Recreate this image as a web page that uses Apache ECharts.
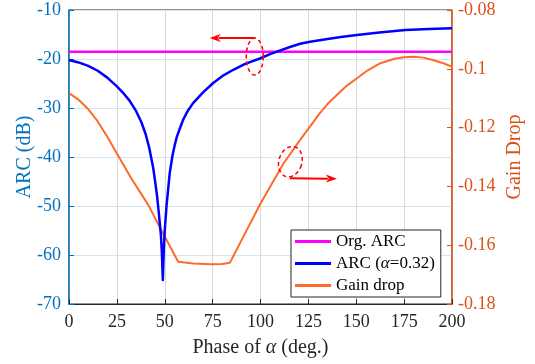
<!DOCTYPE html>
<html><head><meta charset="utf-8">
<script src="https://cdn.jsdelivr.net/npm/echarts@6/dist/echarts.min.js"></script>
<style>html,body{margin:0;padding:0;background:#fff}#c{width:535px;height:364px}</style>
</head><body><div id="c"></div>
<script>
// ---- data ----
const phaseTicks = [0, 25, 50, 75, 100, 125, 150, 175, 200];
const orgArcPhase = [0, 200];
const orgArcValues = [-18.5, -18.5];
const arcPhase = [0, 5, 10, 15, 20, 25, 28, 31.6, 35, 37.8, 40, 42, 44, 44.8, 46, 46.9, 48, 48.5, 49, 49.5, 50, 50.9, 52.6, 54, 55.2, 56.3, 57.5, 59.6, 62, 64.8, 70, 75.3, 80, 85.8, 92, 99.7, 105, 110, 115, 120.7, 125.9, 135, 142, 150.4, 162, 175.7, 188, 200];
const arcValues = [-20.2, -20.7, -21.4, -22.4, -23.8, -25.6, -26.8, -28.5, -30.6, -32.9, -35.3, -38.3, -42.3, -44.5, -48, -51.4, -56, -59.5, -65.1, -59, -55, -50.1, -43.3, -39.8, -37.6, -35.9, -34.6, -32.4, -30.6, -29.0, -26.8, -24.9, -23.5, -22.2, -21.0, -19.9, -19.0, -18.3, -17.6, -16.9, -16.5, -15.9, -15.5, -15.1, -14.6, -14.1, -13.9, -13.7];
const gainPhase = [0, 5, 10, 15, 20, 25, 32.5, 41.3, 48.2, 57, 65, 74, 80, 84, 92, 100, 112, 120.7, 126, 131, 135, 140, 145, 150.4, 156, 162.6, 170, 175, 180, 185, 190, 195, 200];
const gainValues = [-0.1083, -0.1105, -0.1137, -0.1179, -0.1231, -0.1288, -0.1372, -0.1462, -0.1548, -0.1656, -0.1662, -0.1665, -0.1664, -0.1660, -0.1559, -0.1458, -0.1322, -0.1242, -0.1195, -0.1151, -0.1120, -0.1088, -0.1058, -0.1032, -0.1005, -0.0981, -0.0966, -0.0961, -0.0959, -0.0962, -0.0970, -0.0980, -0.0993];
const arcTicks = [-70, -60, -50, -40, -30, -20, -10];
const gainTicks = [-0.18, -0.16, -0.14, -0.12, -0.10, -0.08];
// annotation anchors (data units)
const annotLeft = { ellipse: [97, -19.5], tail: [97, -15.7], head: [73.5, -15.7] };
const annotRight = { ellipse: [115.6, -0.1316], tail: [115.3, -0.1372], head: [139.9, -0.1374] };

const zip = (a, b) => a.map((v, i) => [v, b[i]]);
const FONT = 'Liberation Serif';
const BLUE_AX = '#0072BD', ORANGE_AX = '#D95319';

const chart = echarts.init(document.getElementById('c'), null, { renderer: 'canvas' });
chart.setOption({
  backgroundColor: '#fff',
  animation: false,
  grid: { left: 69, right: 83, top: 10, bottom: 60, show: true, borderColor: '#262626', borderWidth: 1 },
  legend: {
    orient: 'vertical', left: 291, top: 230,
    backgroundColor: '#fff', borderColor: '#262626', borderWidth: 1,
    padding: [3, 6, 3, 4], itemGap: 5, itemWidth: 36, itemHeight: 3, icon: 'rect',
    textStyle: { fontFamily: FONT, fontSize: 17, color: '#000', lineHeight: 17,
      rich: { n: { fontFamily: FONT, fontSize: 17, color: '#000' }, i: { fontFamily: FONT, fontSize: 17, fontStyle: 'italic', color: '#000' } } },
    formatter: name => name === 'ARC (α=0.32)' ? '{n|ARC (}{i|α}{n|=0.32)}' : name,
    data: ['Org. ARC', 'ARC (α=0.32)', 'Gain drop']
  },
  xAxis: {
    type: 'value', min: 0, max: 200, interval: 25,
    name: 'Phase of {i|α} (deg.)', nameLocation: 'middle', nameGap: 34,
    nameTextStyle: { fontFamily: FONT, fontSize: 20, color: '#262626',
      rich: { i: { fontFamily: FONT, fontSize: 20, fontStyle: 'italic', color: '#262626' } } },
    axisLine: { lineStyle: { color: '#262626', width: 1 } },
    axisTick: { inside: true, length: 5, lineStyle: { color: '#262626' } },
    axisLabel: { color: '#262626', fontFamily: FONT, fontSize: 18, margin: 9 },
    splitLine: { show: true, lineStyle: { color: '#d9d9d9', width: 1 } }
  },
  yAxis: [{
    type: 'value', position: 'left', min: -70, max: -10, interval: 10,
    name: 'ARC (dB)', nameLocation: 'middle', nameGap: 34, nameRotate: 90, nameMoveOverlap: false,
    nameTextStyle: { fontFamily: FONT, fontSize: 20, color: BLUE_AX },
    axisLine: { show: true, lineStyle: { color: BLUE_AX, width: 1.5 } },
    axisTick: { show: true, inside: true, length: 5, lineStyle: { color: BLUE_AX } },
    axisLabel: { color: BLUE_AX, fontFamily: FONT, fontSize: 18, margin: 8 },
    splitLine: { show: true, lineStyle: { color: '#d3e4f2', width: 1 } }
  }, {
    type: 'value', position: 'right', min: -0.18, max: -0.08, interval: 0.02,
    name: 'Gain Drop', nameLocation: 'middle', nameGap: 53, nameRotate: 90, nameMoveOverlap: false,
    nameTextStyle: { fontFamily: FONT, fontSize: 20, color: ORANGE_AX },
    axisLine: { show: true, lineStyle: { color: ORANGE_AX, width: 1.5 } },
    axisTick: { show: true, inside: true, length: 5, lineStyle: { color: ORANGE_AX } },
    axisLabel: { color: ORANGE_AX, fontFamily: FONT, fontSize: 18, margin: 6,
      formatter: v => String(parseFloat(v.toFixed(2))) },
    splitLine: { show: false }
  }],
  series: [
    { name: 'Org. ARC', type: 'line', yAxisIndex: 0, data: zip(orgArcPhase, orgArcValues), showSymbol: false,
      lineStyle: { color: '#FF00FF', width: 2.5 }, itemStyle: { color: '#FF00FF' }, z: 3 },
    { name: 'ARC (α=0.32)', type: 'line', yAxisIndex: 0, data: zip(arcPhase, arcValues), showSymbol: false,
      lineStyle: { color: '#0000FF', width: 2.5, join: 'round' }, itemStyle: { color: '#0000FF' }, z: 4 },
    { name: 'Gain drop', type: 'line', yAxisIndex: 1, data: zip(gainPhase, gainValues), showSymbol: false,
      lineStyle: { color: '#FF6A2C', width: 2, join: 'round' }, itemStyle: { color: '#FF6A2C' }, z: 2 }
  ]
});

function px(pt, yi) { return chart.convertToPixel({ xAxisIndex: 0, yAxisIndex: yi }, pt); }
function ellipsePts(c, rx, ry, rot) {
  const pts = [];
  for (let k = 0; k <= 60; k++) {
    const t = k / 60 * Math.PI * 2;
    const x = rx * Math.cos(t), y = ry * Math.sin(t);
    pts.push([c[0] + x * Math.cos(rot) - y * Math.sin(rot), c[1] + x * Math.sin(rot) + y * Math.cos(rot)]);
  }
  return pts;
}
function arrow(tail, head) {
  const dx = head[0] - tail[0], dy = head[1] - tail[1];
  const L = Math.hypot(dx, dy), ux = dx / L, uy = dy / L;
  const hl = 11, hw = 4;
  const base = [head[0] - ux * hl, head[1] - uy * hl];
  return [
    { type: 'line', shape: { x1: tail[0], y1: tail[1], x2: base[0] + ux * 2, y2: base[1] + uy * 2 }, style: { stroke: '#FF0000', lineWidth: 2 }, z: 100 },
    { type: 'polygon', shape: { points: [head, [base[0] - uy * hw, base[1] + ux * hw], [base[0] + ux * 3, base[1] + uy * 3], [base[0] + uy * hw, base[1] - ux * hw]] }, style: { fill: '#FF0000' }, z: 100 }
  ];
}
const e1 = px(annotLeft.ellipse, 0), e2 = px(annotRight.ellipse, 1);
chart.setOption({
  graphic: [
    { type: 'polyline', shape: { points: ellipsePts(e1, 8.5, 18.5, 0) }, style: { stroke: '#FF0000', lineWidth: 1.5, lineDash: [4, 3], fill: null }, z: 100 },
    { type: 'polyline', shape: { points: ellipsePts(e2, 11.5, 15.5, 0.3) }, style: { stroke: '#FF0000', lineWidth: 1.5, lineDash: [4, 3], fill: null }, z: 100 },
    ...arrow(px(annotLeft.tail, 0), px(annotLeft.head, 0)),
    ...arrow(px(annotRight.tail, 1), px(annotRight.head, 1))
  ]
});
</script></body></html>
